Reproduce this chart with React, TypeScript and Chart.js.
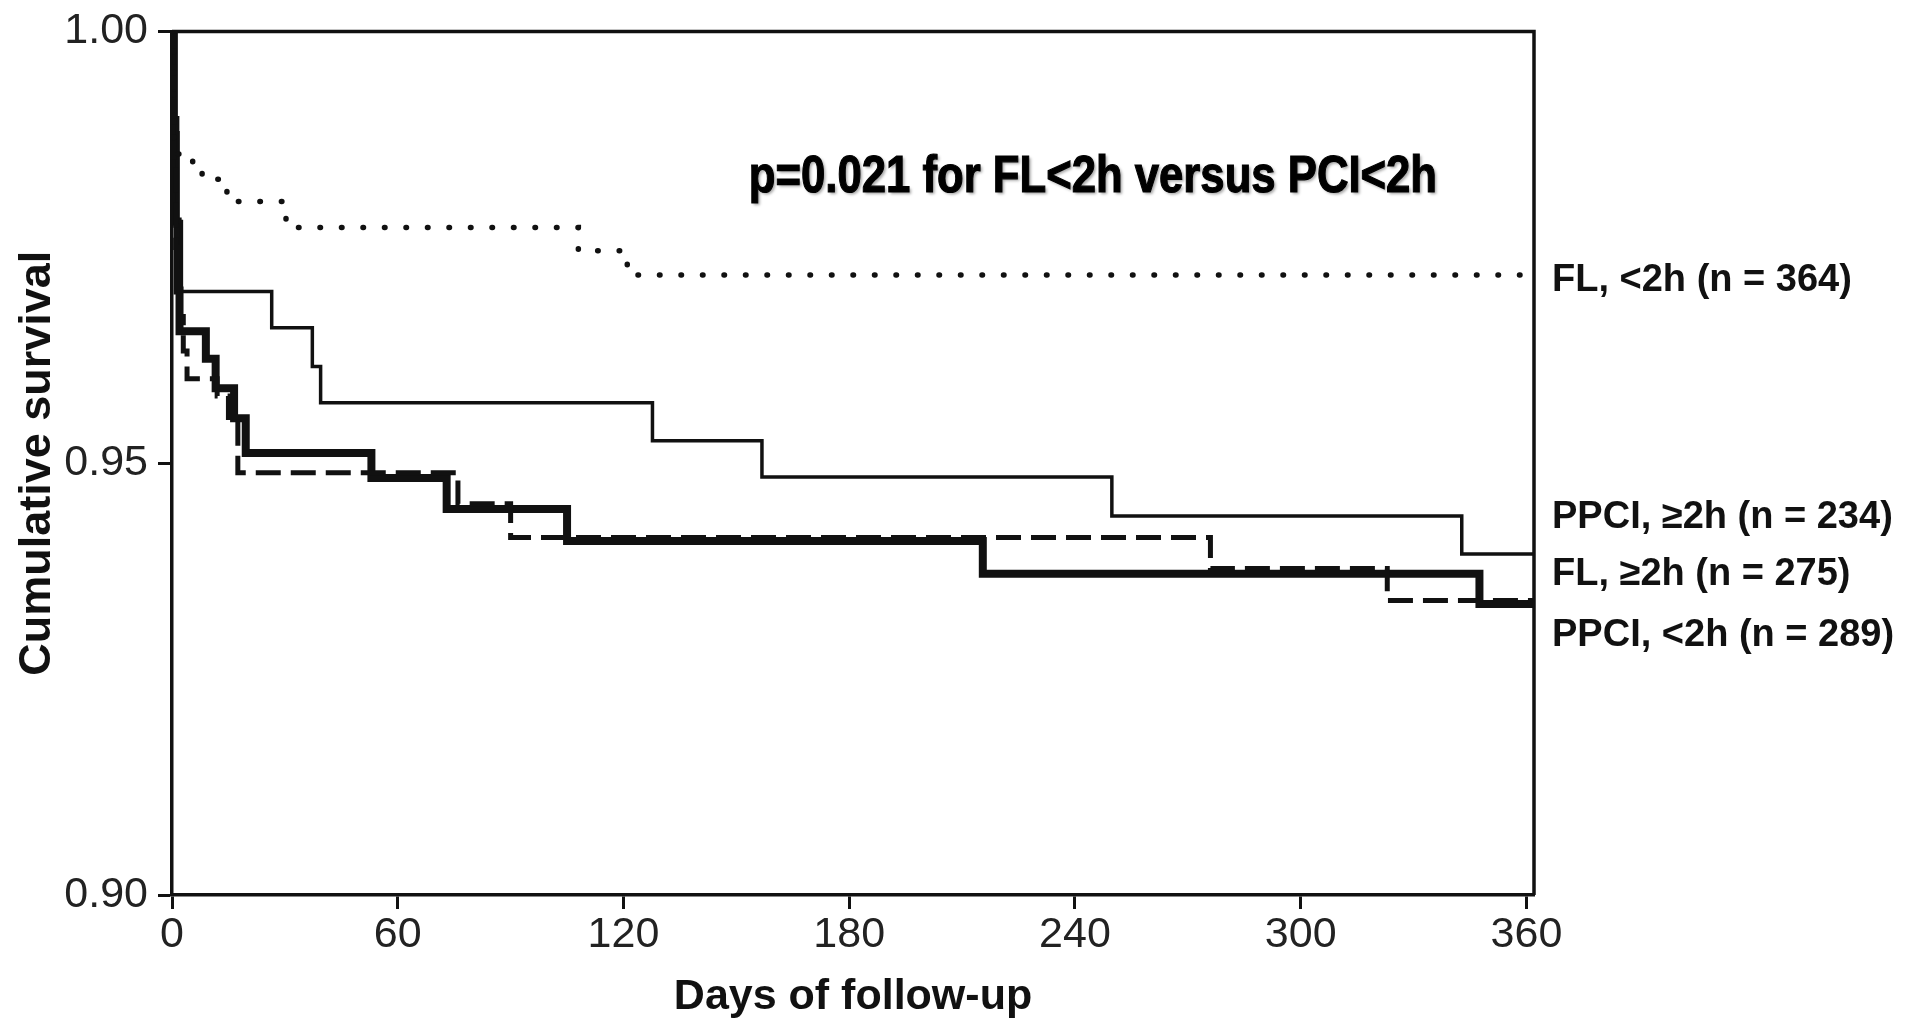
import React, { useEffect, useRef } from "react";
import { Chart, registerables } from "chart.js";

Chart.register(...registerables);

// ---- axes ----
const xTickValues = [0, 60, 120, 180, 240, 300, 360];
const xMax = 362;
const yTickValues = [0.9, 0.95, 1.0];
const yTickLabels = ["0.90", "0.95", "1.00"];
const xTitle = "Days of follow-up";
const yTitle = "Cumulative survival";

// ---- series (Kaplan-Meier step points: day, survival after event) ----
const flLt2hDays = [0, 0.5, 5.5, 8, 14.6, 30.3, 108, 121, 362];
const flLt2hSurv = [1.0, 0.9858, 0.9849, 0.9829, 0.9803, 0.9773, 0.9746, 0.9718, 0.9718];

const ppciGe2hDays = [0, 0.5, 1.5, 2.5, 26.5, 37.3, 39.5, 127.7, 156.8, 249.8, 342.8, 362];
const ppciGe2hSurv = [1.0, 0.99, 0.978, 0.9699, 0.9657, 0.9612, 0.957, 0.9526, 0.9484, 0.9439, 0.9395, 0.9395];

const flGe2hDays = [0, 0.5, 1, 1.5, 2, 9, 11.6, 16.5, 19.6, 53, 73, 105, 215.5, 347.5, 362];
const flGe2hSurv = [1.0, 0.988, 0.978, 0.97, 0.9653, 0.9621, 0.9587, 0.9552, 0.9512, 0.9483, 0.9447, 0.941, 0.9372, 0.9337, 0.9337];

const ppciLt2hDays = [0, 0.5, 1, 2, 3, 4, 12, 15, 17.5, 76, 90, 276, 323, 362];
const ppciLt2hSurv = [1.0, 0.985, 0.975, 0.967, 0.963, 0.9598, 0.9578, 0.9548, 0.9489, 0.9453, 0.9414, 0.9378, 0.9341, 0.9341];

// ---- labels ----
const seriesLabels = [
  "FL, <2h (n = 364)",
  "PPCI, \u22652h (n = 234)",
  "FL, \u22652h (n = 275)",
  "PPCI, <2h (n = 289)",
];
const labelAnchorSurv = [0.9712, 0.9437, 0.9371, 0.93];
const annotationText = "p=0.021 for FL<2h versus PCI<2h";
const annotationDay = 153.3;
const annotationSurv = 0.9814;

const FONT = "'Liberation Sans', Arial, Helvetica, sans-serif";

function toPoints(days: number[], surv: number[]) {
  return days.map((d, i) => ({ x: d, y: surv[i] }));
}

const overlayPlugin = {
  id: "frameAndText",
  afterDraw(chart: any) {
    const { ctx, chartArea: a, scales } = chart;
    ctx.save();
    // top and right frame
    ctx.strokeStyle = "#111";
    ctx.lineWidth = 3.5;
    ctx.beginPath();
    ctx.moveTo(a.left, a.top);
    ctx.lineTo(a.right, a.top);
    ctx.lineTo(a.right, a.bottom);
    ctx.stroke();

    // series labels on the right
    ctx.fillStyle = "#111";
    ctx.font = `bold 38px ${FONT}`;
    ctx.textAlign = "left";
    ctx.textBaseline = "middle";
    seriesLabels.forEach((t, i) => {
      ctx.fillText(t, a.right + 18, scales.y.getPixelForValue(labelAnchorSurv[i]));
    });

    // p-value annotation (condensed bold with soft shadow)
    const ax = scales.x.getPixelForValue(annotationDay);
    const ay = scales.y.getPixelForValue(annotationSurv);
    ctx.translate(ax, ay);
    ctx.scale(0.84, 1);
    ctx.shadowColor = "rgba(0,0,0,0.35)";
    ctx.shadowOffsetX = 2;
    ctx.shadowOffsetY = 2;
    ctx.shadowBlur = 3;
    ctx.font = `bold 52px ${FONT}`;
    ctx.textBaseline = "alphabetic";
    ctx.fillStyle = "#000";
    ctx.strokeStyle = "#000";
    ctx.lineWidth = 1.2;
    ctx.fillText(annotationText, 0, 0);
    ctx.shadowColor = "rgba(0,0,0,0)";
    ctx.strokeText(annotationText, 0, 0);
    ctx.restore();
  },
};

export default function App() {
  const ref = useRef<HTMLCanvasElement>(null);

  useEffect(() => {
    if (!ref.current) return;
    const common = {
      pointRadius: 0,
      pointHoverRadius: 0,
      fill: false,
      stepped: "before" as const,
      borderColor: "#111",
      borderJoinStyle: "miter" as const,
    };
    const chart = new Chart(ref.current, {
      type: "line",
      data: {
        datasets: [
          {
            ...common,
            label: seriesLabels[0],
            data: toPoints(flLt2hDays, flLt2hSurv),
            borderWidth: 5.5,
            borderDash: [0.5, 21],
            borderCapStyle: "round",
            order: 0,
          },
          {
            ...common,
            label: seriesLabels[3],
            data: toPoints(ppciLt2hDays, ppciLt2hSurv),
            borderWidth: 5,
            borderDash: [25, 10],
            borderCapStyle: "butt",
            order: 1,
          },
          {
            ...common,
            label: seriesLabels[1],
            data: toPoints(ppciGe2hDays, ppciGe2hSurv),
            borderWidth: 3.5,
            order: 2,
          },
          {
            ...common,
            label: seriesLabels[2],
            data: toPoints(flGe2hDays, flGe2hSurv),
            borderWidth: 8,
            order: 3,
          },
        ],
      },
      options: {
        animation: false,
        responsive: true,
        maintainAspectRatio: false,
        layout: { padding: { left: 0, top: 22, right: 385, bottom: 0 } },
        plugins: {
          legend: { display: false },
          tooltip: { enabled: false },
        },
        scales: {
          x: {
            type: "linear",
            min: 0,
            max: xMax,
            afterBuildTicks: (s: any) => {
              s.ticks = xTickValues.map((v) => ({ value: v }));
            },
            afterFit: (s: any) => {
              s.height = 126;
            },
            border: { display: true, color: "#111", width: 3.5 },
            grid: {
              display: true,
              drawOnChartArea: false,
              drawTicks: true,
              tickLength: 14,
              tickWidth: 3,
              tickColor: "#111",
            },
            ticks: {
              autoSkip: false,
              maxRotation: 0,
              padding: 5,
              color: "#222",
              font: { family: FONT, size: 43, lineHeight: 1 },
              callback: (v: any) => String(v),
            },
            title: {
              display: true,
              text: xTitle,
              color: "#111",
              font: { family: FONT, size: 43, weight: "bold", lineHeight: 1 },
              padding: { top: 0, bottom: 2 },
            },
          },
          y: {
            type: "linear",
            min: 0.9,
            max: 1.0,
            afterBuildTicks: (s: any) => {
              s.ticks = yTickValues.map((v) => ({ value: v }));
            },
            afterFit: (s: any) => {
              s.width = 172;
            },
            border: { display: true, color: "#111", width: 3.5 },
            grid: {
              display: true,
              drawOnChartArea: false,
              drawTicks: true,
              tickLength: 14,
              tickWidth: 3,
              tickColor: "#111",
            },
            ticks: {
              autoSkip: false,
              padding: 10,
              color: "#222",
              font: { family: FONT, size: 43, lineHeight: 1 },
              callback: (v: any) => {
                const idx = yTickValues.findIndex((t) => Math.abs(t - Number(v)) < 1e-9);
                return idx >= 0 ? yTickLabels[idx] : "";
              },
            },
            title: {
              display: true,
              text: yTitle,
              color: "#111",
              font: { family: FONT, size: 45, weight: "bold", lineHeight: 1 },
              padding: { top: 15, bottom: 0 },
            },
          },
        },
      } as any,
      plugins: [overlayPlugin],
    });
    return () => chart.destroy();
  }, []);

  return (
    <div
      style={{
        position: "fixed",
        left: 0,
        top: 0,
        width: 1919,
        height: 1021,
        background: "#fff",
      }}
    >
      <canvas ref={ref} />
    </div>
  );
}
